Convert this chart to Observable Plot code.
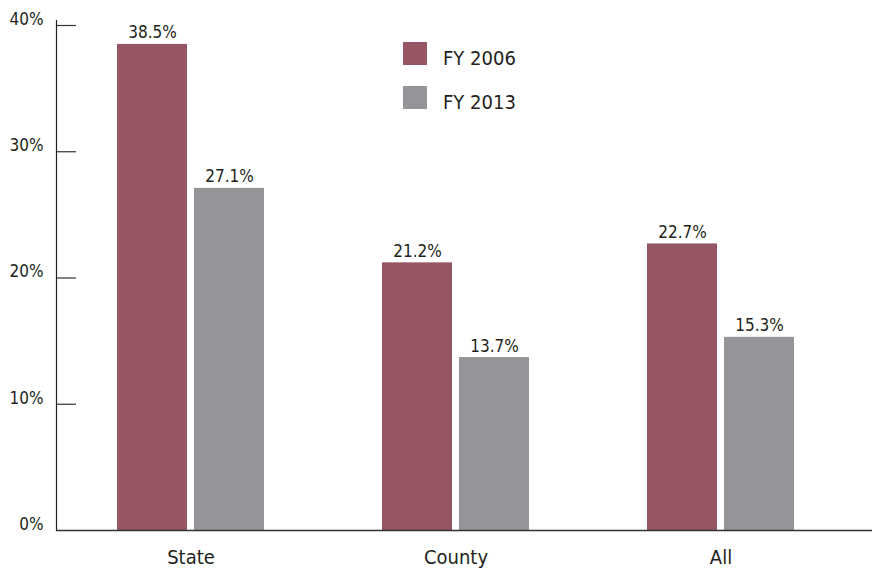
<!DOCTYPE html>
<html><head><meta charset="utf-8">
<script src="https://cdn.jsdelivr.net/npm/d3@7"></script>
<script src="https://cdn.jsdelivr.net/npm/@observablehq/plot@0.6"></script>
<style>
body{margin:0;background:#fff;}
#wrap{position:relative;width:873px;height:569px;font-family:"Liberation Sans Narrow","DejaVu Sans Condensed","DejaVu Sans",sans-serif;font-stretch:condensed;color:#231f20}
#wrap svg, #wrap svg text{font-stretch:condensed}
#wrap svg g[aria-label="y-axis tick label"]{font-size:17px}
.sw{position:absolute;width:24px;height:23px}
.lt{position:absolute;font-size:20px;line-height:22px;white-space:nowrap}
</style></head><body><div id="wrap"></div>
<script>
const categories = ["State", "County", "All"];
const series = ["FY 2006", "FY 2013"];
const fy2006 = [38.5, 21.2, 22.7];
const fy2013 = [27.1, 13.7, 15.3];
const yTicks = [0, 10, 20, 30, 40];
const colors = ["#955563", "#949598"];

const rows2006 = categories.map((c, i) => ({category: c, series: series[0], value: fy2006[i]}));
const rows2013 = categories.map((c, i) => ({category: c, series: series[1], value: fy2013[i]}));
const fmt = d => d.value.toFixed(1) + "%";
const ink = "#231f20";

const chart = Plot.plot({
  width: 873,
  height: 569,
  marginLeft: 56,
  marginRight: 1,
  marginTop: 20,
  marginBottom: 39,
  style: {fontFamily: '"Liberation Sans Narrow","DejaVu Sans Condensed","DejaVu Sans",sans-serif', color: ink, background: "#fff"},
  x: {domain: categories, range: [57, 853], paddingInner: 0.446, paddingOuter: 0.223, label: null},
  y: {domain: [0, 40], range: [530, 25], label: null},
  marks: [
    Plot.barY(rows2006, {x: "category", y: "value", fill: colors[0], insetRight: 77}),
    Plot.barY(rows2013, {x: "category", y: "value", fill: colors[1], insetLeft: 77}),
    Plot.text(rows2006, {x: "category", y: "value", text: fmt, dx: -38.5, dy: -6, lineAnchor: "bottom", fontSize: 17, fill: ink}),
    Plot.text(rows2013, {x: "category", y: "value", text: fmt, dx: 38.5, dy: -6, lineAnchor: "bottom", fontSize: 17, fill: ink}),
    Plot.ruleY(yTicks.slice(1), {stroke: "#333", strokeWidth: 1.2, insetRight: 796}),
    Plot.frame({anchor: "left", stroke: ink, strokeWidth: 1.2}),
    Plot.ruleY([0], {stroke: "#333", strokeWidth: 1.3}),
    Plot.axisY(yTicks, {tickSize: 0, tickPadding: 13, tickFormat: d => d + "%", fontSize: 17, dy: -6, label: null}),
    Plot.axisX({tickSize: 0, tickPadding: 19, fontSize: 20, label: null})
  ]
});
const wrap = document.getElementById("wrap");
wrap.appendChild(chart);

// legend overlay
const legendTops = [42, 86];
series.forEach((s, i) => {
  const sw = document.createElement("div");
  sw.className = "sw";
  sw.style.left = "403px";
  sw.style.top = legendTops[i] + "px";
  sw.style.background = colors[i];
  wrap.appendChild(sw);
  const t = document.createElement("div");
  t.className = "lt";
  t.style.left = "443px";
  t.style.top = (legendTops[i] + 5) + "px";
  t.textContent = s;
  wrap.appendChild(t);
});
</script></body></html>
